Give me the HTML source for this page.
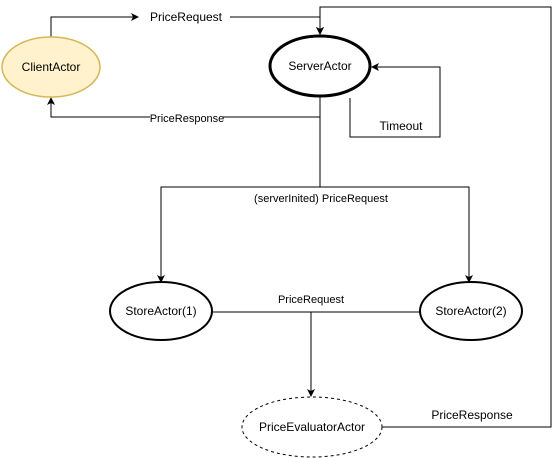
<!DOCTYPE html>
<html><head><style>body{margin:0;background:#fff}svg{display:block}</style></head><body>
<svg width="560" height="458" viewBox="0 0 560 458" xmlns="http://www.w3.org/2000/svg" font-family="Liberation Sans, sans-serif">
<defs><marker id="a" markerWidth="8" markerHeight="8" refX="7" refY="4" orient="auto" markerUnits="userSpaceOnUse"><path d="M0,0 L8,4 L0,8 L2,4 Z" fill="#000"/></marker></defs>
<g fill="none" stroke="#000" stroke-width="1">
<path d="M51,37 V17 H138" marker-end="url(#a)"/>
<path d="M230,17 H320 V34" marker-end="url(#a)"/>
<path d="M320,97 V117 H51 V98" marker-end="url(#a)"/>
<path d="M350,98 V137 H440 V67 H372" marker-end="url(#a)"/>
<path d="M320,97 V187 H161 V282" marker-end="url(#a)"/>
<path d="M320,187 H469 V282" marker-end="url(#a)"/>
<path d="M213,312 H421"/>
<path d="M311,312 V396" marker-end="url(#a)"/>
<path d="M382,427 H551 V7 H320 V34" marker-end="url(#a)"/>
</g>
<ellipse cx="51" cy="67" rx="49" ry="30" fill="#fff2cc" stroke="#d6b656" stroke-width="1.5"/>
<ellipse cx="320" cy="66" rx="50" ry="30" fill="#fff" stroke="#000" stroke-width="3"/>
<ellipse cx="161" cy="311" rx="51" ry="29" fill="#fff" stroke="#000" stroke-width="2"/>
<ellipse cx="471" cy="311" rx="51" ry="29" fill="#fff" stroke="#000" stroke-width="2"/>
<ellipse cx="312" cy="427" rx="70" ry="30" fill="#fff" stroke="#000" stroke-width="1" stroke-dasharray="3,3"/>
<g font-size="12" text-anchor="middle" fill="#000">
<text x="51" y="71">ClientActor</text>
<text x="320" y="70">ServerActor</text>
<text x="161" y="315">StoreActor(1)</text>
<text x="471" y="315">StoreActor(2)</text>
<text x="312" y="431">PriceEvaluatorActor</text>
<text x="186" y="21">PriceRequest</text>
<text x="401" y="130">Timeout</text>
<text x="472" y="419">PriceResponse</text>
</g>
<g font-size="11" text-anchor="middle">
<rect x="150" y="111" width="73" height="13" fill="#fff"/>
<text x="187" y="122">PriceResponse</text>
<text x="321" y="202">(serverInited) PriceRequest</text>
<text x="311" y="303">PriceRequest</text>
</g>
</svg>
</body></html>
